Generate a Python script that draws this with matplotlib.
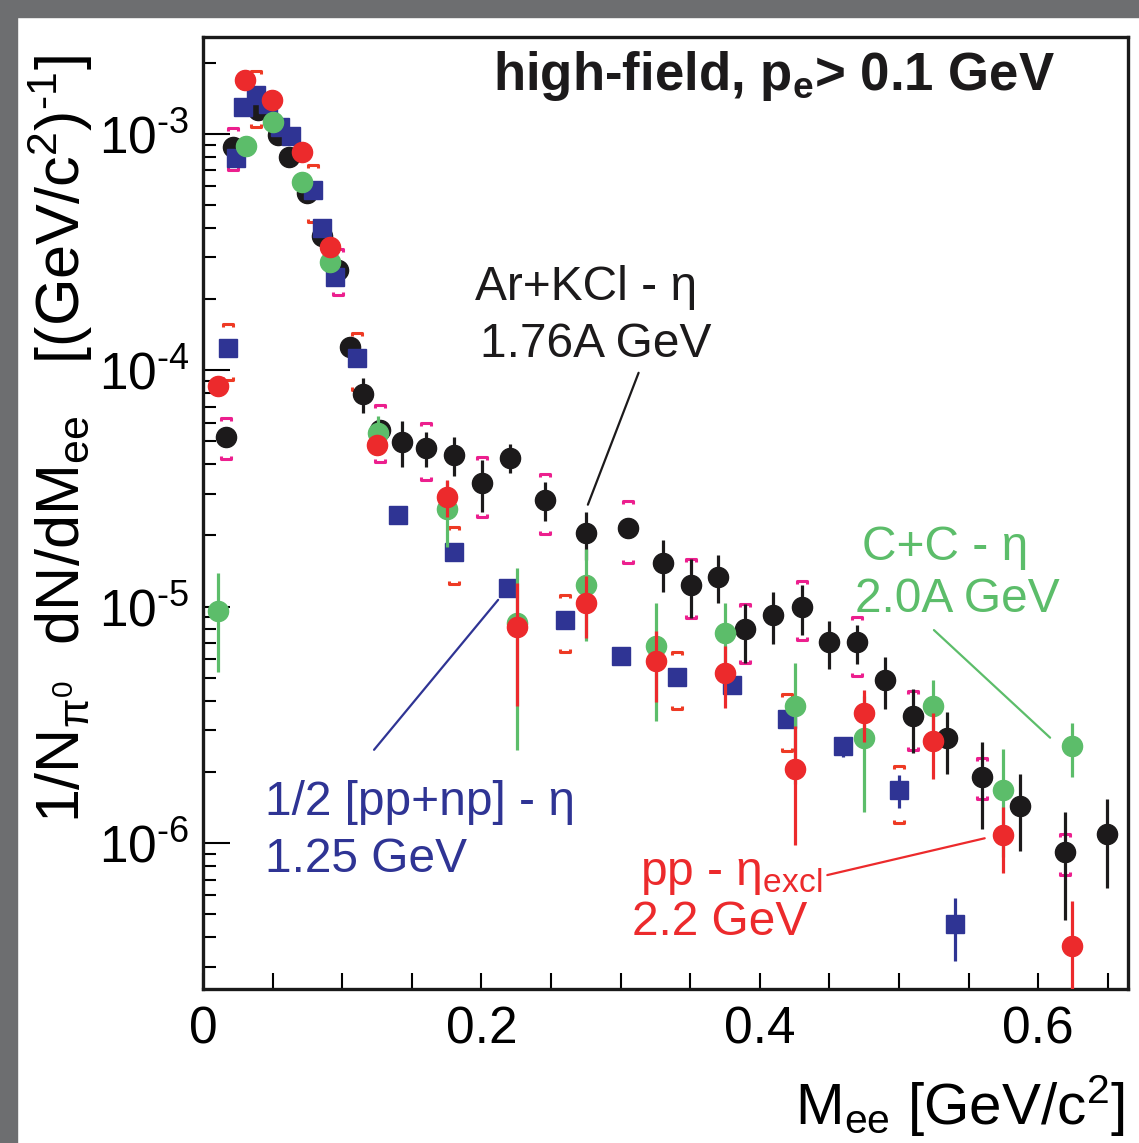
import numpy as np
import matplotlib
matplotlib.use("Agg")
import matplotlib.pyplot as plt
from matplotlib.path import Path
from matplotlib.patches import Rectangle
from matplotlib.ticker import FixedLocator, MultipleLocator, LogLocator, NullFormatter

plt.rcParams["font.family"] = ["Liberation Sans", "DejaVu Sans"]
plt.rcParams["mathtext.fontset"] = "custom"
plt.rcParams["mathtext.rm"] = "Liberation Sans"
plt.rcParams["mathtext.it"] = "Liberation Sans:italic"
plt.rcParams["mathtext.bf"] = "Liberation Sans:bold"
plt.rcParams["mathtext.default"] = "regular"

# Ar+KCl - eta, 1.76A GeV (black)
ar_x = [0.0165, 0.0216, 0.0395, 0.0539, 0.0618, 0.0747, 0.0855, 0.0970, 0.1056,
        0.1149, 0.1272, 0.1430, 0.1602, 0.1803, 0.2004, 0.2205, 0.2457, 0.2751,
        0.3053, 0.3305, 0.3506, 0.3700, 0.3894, 0.4095, 0.4303, 0.4497, 0.4698,
        0.4899, 0.5101, 0.5345, 0.5596, 0.5869, 0.6193, 0.6494]
ar_y = [5.24e-5, 8.8e-4, 1.26e-3, 9.9e-4, 8.0e-4, 5.6e-4, 3.7e-4, 2.66e-4, 1.26e-4,
        7.96e-5, 5.6e-5, 4.99e-5, 4.7e-5, 4.39e-5, 3.34e-5, 4.27e-5, 2.83e-5, 2.05e-5,
        2.16e-5, 1.53e-5, 1.24e-5, 1.34e-5, 8.0e-6, 9.25e-6, 1.0e-5, 7.05e-6, 7.05e-6,
        4.91e-6, 3.43e-6, 2.77e-6, 1.91e-6, 1.44e-6, 9.12e-7, 1.09e-6]
ar_stat = [0.03, 0.03, 0.03, 0.03, 0.03, 0.03, 0.03, 0.03, 0.03,
           0.17, 0.08, 0.22, 0.17, 0.19, 0.25, 0.14, 0.19, 0.23,
           0.10, 0.25, 0.28, 0.23, 0.28, 0.25, 0.24, 0.23, 0.19,
           0.25, 0.30, 0.29, 0.40, 0.36, 0.48, 0.41]
ar_sys = [0.20, 0.20, np.nan, np.nan, np.nan, np.nan, np.nan, 0.22, np.nan,
          np.nan, 0.27, np.nan, 0.27, np.nan, 0.28, np.nan, 0.28, np.nan,
          0.29, np.nan, 0.28, np.nan, 0.28, np.nan, 0.28, np.nan, 0.28,
          np.nan, 0.28, np.nan, 0.20, np.nan, 0.20, np.nan]

# C+C - eta, 2.0A GeV (green)
cc_x = [0.0108, 0.0309, 0.0503, 0.0711, 0.0912, 0.1257, 0.1753, 0.2256,
        0.2751, 0.3254, 0.3750, 0.4253, 0.4749, 0.5244, 0.5747, 0.6243]
cc_y = [9.6e-6, 8.9e-4, 1.12e-3, 6.27e-4, 2.88e-4, 5.45e-5, 2.6e-5, 8.55e-6,
        1.23e-5, 6.84e-6, 7.76e-6, 3.78e-6, 2.77e-6, 3.78e-6, 1.68e-6, 2.56e-6]
cc_stat = [0.45, 0.03, 0.03, 0.03, 0.03, 0.17, 0.31, 0.71,
           0.42, 0.52, 0.34, 0.53, 0.51, 0.30, 0.48, 0.26]

# 1/2 [pp+np] - eta, 1.25 GeV (blue)
np_x = [0.0180, 0.0237, 0.0287, 0.0381, 0.0467, 0.0553, 0.0632, 0.0790, 0.0855,
        0.0948, 0.1106, 0.1400, 0.1800, 0.2190, 0.2600, 0.3000, 0.3405, 0.3800,
        0.4195, 0.4598, 0.5000, 0.5400]
np_y = [1.24e-4, 7.9e-4, 1.30e-3, 1.46e-3, 1.34e-3, 1.07e-3, 9.8e-4, 5.8e-4, 4.0e-4,
        2.48e-4, 1.13e-4, 2.43e-5, 1.71e-5, 1.20e-5, 8.8e-6, 6.2e-6, 5.06e-6, 4.68e-6,
        3.36e-6, 2.56e-6, 1.67e-6, 4.52e-7]
np_stat = [0.02, 0.02, 0.02, 0.02, 0.02, 0.02, 0.02, 0.02, 0.02,
           0.02, 0.02, 0.06, 0.05, 0.03, 0.03, 0.06, 0.03, 0.03,
           0.05, 0.10, 0.16, 0.30]
np_sys = [0.27, np.nan, np.nan, 0.27, np.nan, np.nan, np.nan, 0.27, np.nan,
          np.nan, 0.27, np.nan, 0.27, np.nan, 0.27, np.nan, 0.27, np.nan,
          0.27, np.nan, 0.27, np.nan]

# pp - eta_excl, 2.2 GeV (red)
pp_x = [0.0108, 0.0302, 0.0496, 0.0711, 0.0912, 0.1250, 0.1750, 0.2256,
        0.2751, 0.3254, 0.3750, 0.4253, 0.4749, 0.5244, 0.5747, 0.6243]
pp_y = [8.6e-5, 1.69e-3, 1.39e-3, 8.4e-4, 3.33e-4, 4.84e-5, 2.92e-5, 8.2e-6,
        1.04e-5, 5.9e-6, 5.26e-6, 2.05e-6, 3.56e-6, 2.71e-6, 1.08e-6, 3.65e-7]
pp_stat = [0.03, 0.03, 0.03, 0.03, 0.03, 0.05, 0.18, 0.535,
           0.29, 0.33, 0.29, 0.52, 0.25, 0.31, 0.31, 0.55]

y_ticks = [1e-6, 1e-5, 1e-4, 1e-3]
y_ticklabels = ["$10^{‐6}$", "$10^{‐5}$", "$10^{‐4}$", "$10^{‐3}$"]
x_ticks = [0, 0.2, 0.4, 0.6]
x_ticklabels = ["0", "0.2", "0.4", "0.6"]

BLACK = "#1c1a1b"
GREEN = "#5cbd6a"
BLUE = "#2f3494"
RED = "#ec2a2c"
MAGENTA = "#ec1f8e"
BRACKET_RED = "#ee3a24"

TOP_BRACKET = Path([(-1, -0.7), (-1, 0), (1, 0), (1, -0.7)],
                   [Path.MOVETO, Path.LINETO, Path.LINETO, Path.LINETO])
BOT_BRACKET = Path([(-1, 0.7), (-1, 0), (1, 0), (1, 0.7)],
                   [Path.MOVETO, Path.LINETO, Path.LINETO, Path.LINETO])


def draw_series(ax, x, y, stat, color, marker, size, z):
    x = np.asarray(x)
    y = np.asarray(y)
    err = y * np.asarray(stat)
    ax.errorbar(x, y, yerr=err, fmt="none", ecolor=color, elinewidth=2.3,
                capsize=0, zorder=z)
    ax.plot(x, y, marker, color=color, ms=size, mec=color, ls="none", zorder=z + 0.5)


def draw_sys(ax, x, y, sys, color, z):
    x = np.asarray(x)
    y = np.asarray(y)
    s = np.asarray(sys)
    ok = ~np.isnan(s)
    ax.plot(x[ok], y[ok] * (1 + s[ok]), ls="none", marker=TOP_BRACKET, ms=7,
            mfc="none", mec=color, mew=2.2, zorder=z)
    ax.plot(x[ok], y[ok] * (1 - s[ok]), ls="none", marker=BOT_BRACKET, ms=7,
            mfc="none", mec=color, mew=2.2, zorder=z)


fig = plt.figure(figsize=(11.39, 11.43), dpi=100)
fig.patches.append(Rectangle((0, 1 - 17 / 1143), 1, 17 / 1143, transform=fig.transFigure,
                             color="#6d6e70", zorder=-10))
fig.patches.append(Rectangle((0, 0), 17 / 1139, 1, transform=fig.transFigure,
                             color="#6d6e70", zorder=-10))

ax = fig.add_axes([203 / 1139, 1 - 989 / 1143, 925 / 1139, 952 / 1143])

draw_sys(ax, ar_x, ar_y, ar_sys, MAGENTA, 1)
draw_sys(ax, np_x, np_y, np_sys, BRACKET_RED, 1)
draw_series(ax, ar_x, ar_y, ar_stat, BLACK, "o", 14.5, 2)
draw_series(ax, np_x, np_y, np_stat, BLUE, "s", 13, 3)
draw_series(ax, cc_x, cc_y, cc_stat, GREEN, "o", 14.5, 4)
draw_series(ax, pp_x, pp_y, pp_stat, RED, "o", 14.5, 5)

ax.set_yscale("log")
ax.set_xlim(0, 0.6645)
ax.set_ylim(2.41e-7, 2.57e-3)

ax.xaxis.set_major_locator(FixedLocator(x_ticks))
ax.xaxis.set_minor_locator(MultipleLocator(0.05))
ax.set_xticklabels(x_ticklabels)
ax.yaxis.set_minor_locator(LogLocator(base=10, subs=np.arange(2, 10), numticks=20))
ax.yaxis.set_minor_formatter(NullFormatter())
ax.set_yticks(y_ticks)
ax.set_yticklabels(y_ticklabels)

ax.tick_params(axis="x", which="both", direction="in", length=11.5, width=1.5,
               labelsize=37, pad=12, top=False)
ax.tick_params(axis="y", which="major", direction="in", length=19.5, width=1.5,
               labelsize=37, pad=10, right=False)
ax.tick_params(axis="y", which="minor", direction="in", length=9.5, width=1.5,
               right=False)
for sp in ax.spines.values():
    sp.set_linewidth(2.4)
    sp.set_color("#1a1a1a")

ax.set_xlabel(r"M$_{ee}$ [GeV/c$^{2}$]", fontsize=42, loc="right")
ax.xaxis.set_label_coords(1 - 3 / 925, -84 / 952)
ax.set_ylabel(r"1/N$_{\pi^{0}}$  dN/dM$_{ee}$   [(GeV/c$^{2}$)$^{‐1}$]", fontsize=44,
              loc="top")
ax.yaxis.set_label_coords(-108 / 925, 1 - 18 / 952)

ax.text(0.921, 0.944, r"high-field, p$_{e}$> 0.1 GeV", transform=ax.transAxes,
        ha="right", va="baseline", fontsize=38, fontweight="bold", color=BLACK)

# annotations
ax.text(0.294, 0.724, "Ar+KCl - η", transform=ax.transAxes, fontsize=34.5, color=BLACK)
ax.text(0.299, 0.664, "1.76A GeV", transform=ax.transAxes, fontsize=34.5, color=BLACK)
ax.annotate("", xy=(0.415, 0.506), xytext=(0.472, 0.650), xycoords="axes fraction",
            arrowprops=dict(arrowstyle="-", color=BLACK, lw=1.6))

ax.text(0.712, 0.451, "C+C - η", transform=ax.transAxes, fontsize=34.5, color=GREEN)
ax.text(0.705, 0.396, "2.0A GeV", transform=ax.transAxes, fontsize=34.5, color=GREEN)
ax.annotate("", xy=(0.918, 0.262), xytext=(0.788, 0.379), xycoords="axes fraction",
            arrowprops=dict(arrowstyle="-", color=GREEN, lw=1.6))

ax.text(0.067, 0.183, "1/2 [pp+np] - η", transform=ax.transAxes, fontsize=34.5, color=BLUE)
ax.text(0.067, 0.123, "1.25 GeV", transform=ax.transAxes, fontsize=34.5, color=BLUE)
ax.annotate("", xy=(0.321, 0.411), xytext=(0.183, 0.249), xycoords="axes fraction",
            arrowprops=dict(arrowstyle="-", color=BLUE, lw=1.6))

ax.text(0.472, 0.109, r"pp - η$_{excl}$", transform=ax.transAxes, fontsize=34.5, color=RED)
ax.text(0.464, 0.057, "2.2 GeV", transform=ax.transAxes, fontsize=34.5, color=RED)
ax.annotate("", xy=(0.848, 0.159), xytext=(0.672, 0.119), xycoords="axes fraction",
            arrowprops=dict(arrowstyle="-", color=RED, lw=1.6))

fig.savefig("out.png", dpi=100)
